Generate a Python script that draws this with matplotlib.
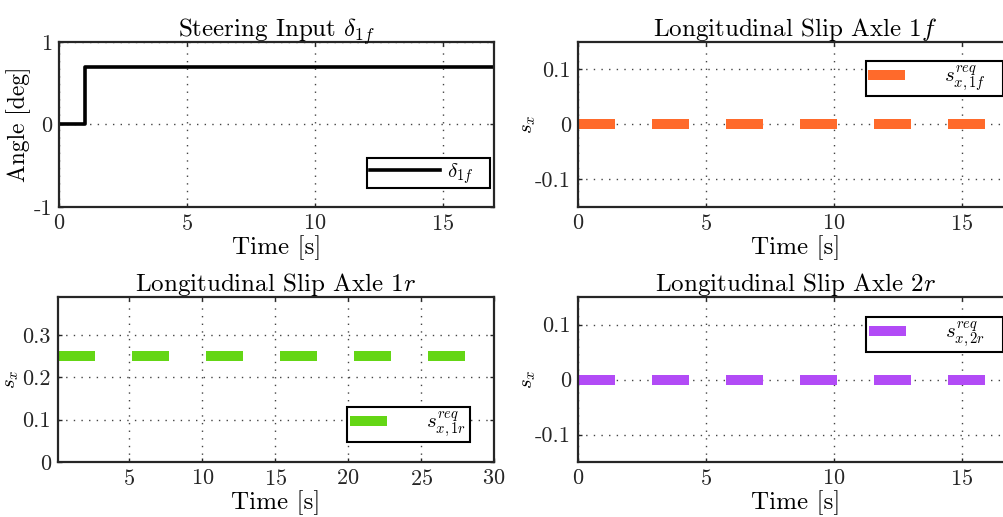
import matplotlib
matplotlib.use("Agg")
import matplotlib.pyplot as plt
import numpy as np

plt.rcParams['font.family'] = 'serif'
plt.rcParams['font.serif'] = ['cmr10', 'DejaVu Serif']
plt.rcParams['mathtext.fontset'] = 'cm'
plt.rcParams['axes.unicode_minus'] = False
plt.rcParams['axes.formatter.use_mathtext'] = True

# steering input
t_steer = [0, 1, 1, 17]
delta_1f = [0, 0, 0.7, 0.7]

# requested longitudinal slip (constant values)
t_short = [0, 17]
t_long = [0.1, 30]
s_1f = [0, 0]
s_1r = [0.25, 0.25]
s_2r = [0, 0]

c_1f = '#ff6a2b'
c_1r = '#64d615'
c_2r = '#b24bf6'

fig = plt.figure(figsize=(10.04, 5.17), dpi=100)

W, H = 1004, 517
def pos(l, r, t, b):
    return [l / W, 1 - b / H, (r - l) / W, (b - t) / H]

ax1 = fig.add_axes(pos(59, 494, 42, 207))
ax2 = fig.add_axes(pos(578, 1013, 42, 207))
ax3 = fig.add_axes(pos(58, 494, 297, 462))
ax4 = fig.add_axes(pos(578, 1013, 297, 462))

def style(ax):
    ax.grid(True, linestyle=(0, (1, 4.5)), color='#444444', linewidth=1.0)
    ax.tick_params(direction='in', top=True, right=True, labelsize=16,
                   length=3, width=1, colors='#262626', pad=5)
    for sp in ax.spines.values():
        sp.set_linewidth(1.6)
        sp.set_color('#262626')
    ax.set_xlabel('Time [s]', fontsize=18, labelpad=1)

def leg(ax, loc, anchor, hl, pad):
    lg = ax.legend(loc=loc, bbox_to_anchor=anchor, borderaxespad=0,
                   fontsize=15, handlelength=hl, handletextpad=pad,
                   fancybox=False, framealpha=1, edgecolor='black',
                   borderpad=0.12)
    lg.get_frame().set_linewidth(1.5)

dash = (3.7, 3.7)

# top left
ax1.plot(t_steer, delta_1f, color='black', linewidth=2.6,
         label=r'$\delta_{1f}$' + '   ')
ax1.set_xlim(0, 17)
ax1.set_ylim(-1, 1)
ax1.set_yticks([-1, 0, 1])
ax1.set_yticklabels(['-1', '0', '1'])
ax1.set_xticks([0, 5, 10, 15])
ax1.set_ylabel('Angle [deg]', fontsize=17, labelpad=2)
ax1.set_title(r'Steering Input $\delta_{1f}$', fontsize=18, pad=4)
style(ax1)
leg(ax1, 'lower right', (0.991, 0.115), 3.4, 0.3)

# top right
ax2.plot(t_short, s_1f, color=c_1f, linewidth=7.2, dashes=dash,
         solid_capstyle='butt', dash_capstyle='butt',
         label=r'$s^{req}_{x,1f}$' + '   ')
ax2.set_xlim(0, 17)
ax2.set_ylim(-0.15, 0.15)
ax2.set_yticks([-0.1, 0, 0.1])
ax2.set_yticklabels(['-0.1', '0', '0.1'])
ax2.set_xticks([0, 5, 10, 15])
ax2.set_ylabel(r'$s_x$', fontsize=15, labelpad=-2)
ax2.set_title(r'Longitudinal Slip Axle $1f$', fontsize=18, pad=4)
style(ax2)
leg(ax2, 'upper right', (0.977, 0.885), 1.9, 1.75)

# bottom left
ax3.plot(t_long, s_1r, color=c_1r, linewidth=7.2, dashes=dash,
         solid_capstyle='butt', dash_capstyle='butt',
         label=r'$s^{req}_{x,1r}$' + ' ')
ax3.set_xlim(0.1, 30)
ax3.set_ylim(0, 0.39)
ax3.set_yticks([0, 0.1, 0.2, 0.3])
ax3.set_yticklabels(['0', '0.1', '0.2', '0.3'])
ax3.set_xticks([5, 10, 15, 20, 25, 30])
ax3.set_ylabel(r'$s_x$', fontsize=15, labelpad=1)
ax3.set_title(r'Longitudinal Slip Axle $1r$', fontsize=18, pad=4)
style(ax3)
leg(ax3, 'lower right', (0.945, 0.121), 1.9, 1.75)

# bottom right
ax4.plot(t_short, s_2r, color=c_2r, linewidth=7.2, dashes=dash,
         solid_capstyle='butt', dash_capstyle='butt',
         label=r'$s^{req}_{x,2r}$' + '   ')
ax4.set_xlim(0, 17)
ax4.set_ylim(-0.15, 0.15)
ax4.set_yticks([-0.1, 0, 0.1])
ax4.set_yticklabels(['-0.1', '0', '0.1'])
ax4.set_xticks([0, 5, 10, 15])
ax4.set_ylabel(r'$s_x$', fontsize=15, labelpad=-2)
ax4.set_title(r'Longitudinal Slip Axle $2r$', fontsize=18, pad=4)
style(ax4)
leg(ax4, 'upper right', (0.977, 0.879), 1.9, 1.75)

fig.savefig('out.png', dpi=100)
